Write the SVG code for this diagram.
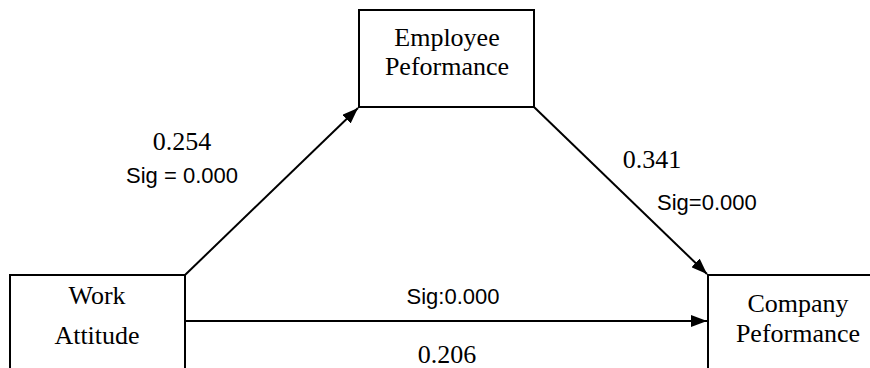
<svg xmlns="http://www.w3.org/2000/svg" width="870" height="368" viewBox="0 0 870 368">
<style>
.box{fill:#fff;stroke:#000;stroke-width:2}
.t{font-family:"Liberation Serif","Times New Roman",serif;font-size:26px;fill:#000;text-anchor:middle}
.s{font-family:"Liberation Sans",Arial,sans-serif;font-size:22px;fill:#000}
</style>
<defs>
<marker id="ah2" viewBox="0 0 16 12" refX="16" refY="6" markerWidth="16" markerHeight="12" markerUnits="userSpaceOnUse" orient="auto">
<path d="M0,0 L16,6 L0,12 Z" fill="#000"/>
</marker>
</defs>
<rect width="870" height="368" fill="#fff"/>
<g id="employee">
<rect class="box" x="359" y="10" width="175" height="97"/>
<text class="t" x="447" y="46">Employee</text>
<text class="t" x="447" y="75">Peformance</text>
</g>
<g id="work">
<rect class="box" x="10" y="275" width="175" height="110"/>
<text class="t" x="97" y="304">Work</text>
<text class="t" x="97" y="344">Attitude</text>
</g>
<g id="company">
<rect class="box" x="708" y="275" width="180" height="110"/>
<text class="t" x="798" y="312">Company</text>
<text class="t" x="798" y="342">Peformance</text>
</g>
<g id="connectors">
<line x1="185" y1="275" x2="358" y2="108" stroke="#000" stroke-width="2" marker-end="url(#ah2)"/>
<line x1="534" y1="107" x2="707" y2="274" stroke="#000" stroke-width="2" marker-end="url(#ah2)"/>
<line x1="185" y1="321" x2="707" y2="321" stroke="#000" stroke-width="2" marker-end="url(#ah2)"/>
</g>
<g id="labels">
<text class="t" x="182" y="150">0.254</text>
<text class="s" x="182" y="183" text-anchor="middle">Sig = 0.000</text>
<text class="t" x="652" y="168">0.341</text>
<text class="s" x="657" y="210">Sig=0.000</text>
<text class="s" x="453" y="304" text-anchor="middle">Sig:0.000</text>
<text class="t" x="447" y="363">0.206</text>
</g>
</svg>
